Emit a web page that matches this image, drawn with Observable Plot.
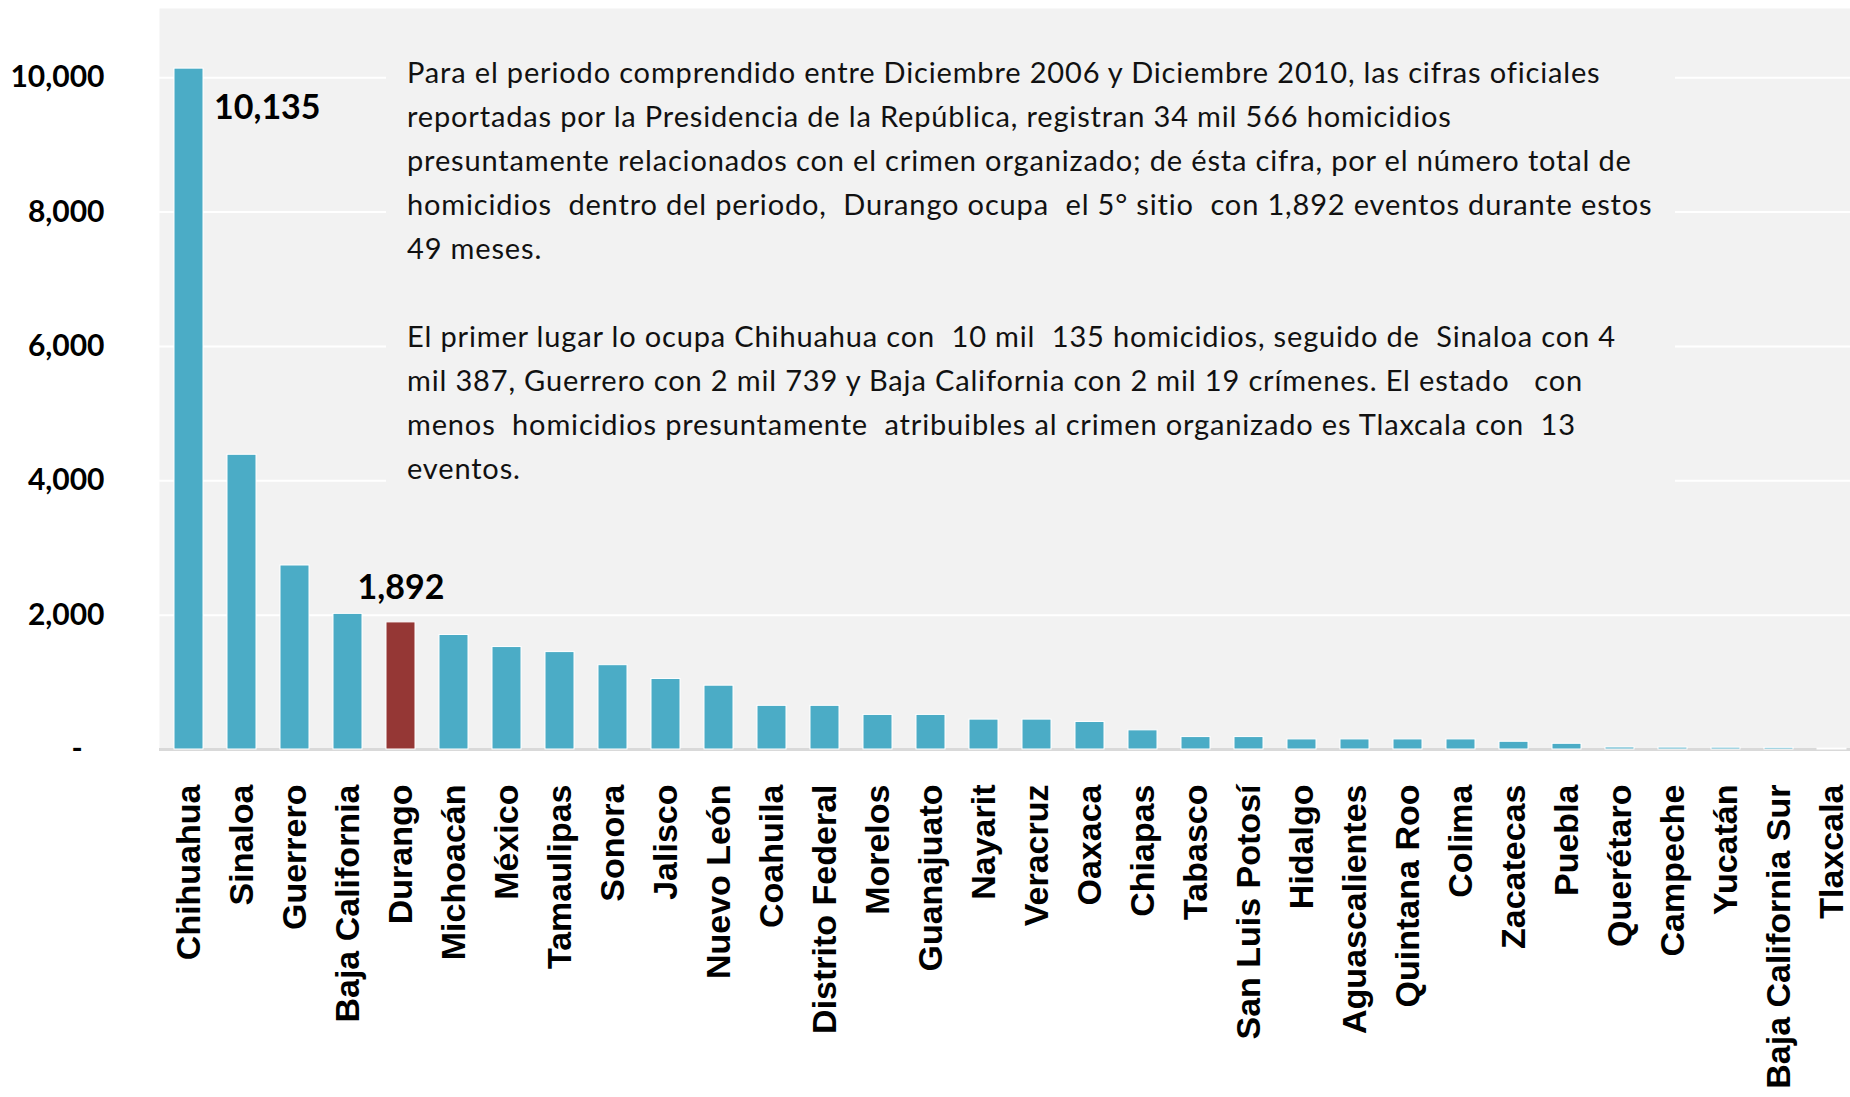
<!DOCTYPE html>
<html><head><meta charset="utf-8">
<script src="https://cdn.jsdelivr.net/npm/d3@7"></script>
<script src="https://cdn.jsdelivr.net/npm/@observablehq/plot@0.6"></script>
<style>
html,body{margin:0;padding:0;background:#fff;}
#wrap{position:relative;width:1850px;height:1097px;overflow:hidden;}
#chart svg{display:block;}
#note{position:absolute;left:386px;top:40px;width:1289px;height:457px;background:#f2f2f2;font-family:Lato, sans-serif;font-size:29px;color:#111;}
#note div.l{position:absolute;left:21px;white-space:pre;line-height:1;}
</style></head>
<body><div id="wrap"><div id="chart"></div><div id="note"></div></div>
<script>
const states = ["Chihuahua","Sinaloa","Guerrero","Baja California","Durango","Michoacán","México","Tamaulipas","Sonora","Jalisco","Nuevo León","Coahuila","Distrito Federal","Morelos","Guanajuato","Nayarit","Veracruz","Oaxaca","Chiapas","Tabasco","San Luis Potosí","Hidalgo","Aguascalientes","Quintana Roo","Colima","Zacatecas","Puebla","Querétaro","Campeche","Yucatán","Baja California Sur","Tlaxcala"];
const homicidios = [10135,4387,2739,2019,1892,1705,1525,1450,1255,1050,950,650,650,515,515,445,445,410,285,185,185,150,150,150,150,115,85,30,28,27,25,13];
const highlightState = "Durango";
const labeledStates = ["Chihuahua","Durango"];
const yTicks = [0,2000,4000,6000,8000,10000];
const noteLines = [
  "Para el periodo comprendido entre Diciembre 2006 y Diciembre 2010, las cifras oficiales",
  "reportadas por la Presidencia de la República, registran 34 mil 566 homicidios",
  "presuntamente relacionados con el crimen organizado; de ésta cifra, por el número total de",
  "homicidios  dentro del periodo,  Durango ocupa  el 5° sitio  con 1,892 eventos durante estos",
  "49 meses.",
  "",
  "El primer lugar lo ocupa Chihuahua con  10 mil  135 homicidios, seguido de  Sinaloa con 4",
  "mil 387, Guerrero con 2 mil 739 y Baja California con 2 mil 19 crímenes. El estado   con",
  "menos  homicidios presuntamente  atribuibles al crimen organizado es Tlaxcala con  13",
  "eventos."
];

const data = states.map((s, i) => ({state: s, value: homicidios[i]}));
const fmt = d3.format(",");

const chart = Plot.plot({
  width: 1850, height: 1097,
  marginLeft: 159, marginRight: -11, marginTop: 8, marginBottom: 348,
  style: {background: "transparent", color: "#000", fontFamily: "Lato, sans-serif", overflow: "visible"},
  x: {domain: states, paddingInner: 0.454, paddingOuter: 0.254, label: null},
  y: {domain: [0, 11030], label: null},
  marks: [
    Plot.frame({fill: "#f2f2f2", stroke: null}),
    Plot.gridY(yTicks.filter(d => d > 0), {stroke: "#ffffff", strokeOpacity: 1, strokeWidth: 2}),
    Plot.ruleY([0], {stroke: "#d9d9d9", strokeWidth: 3}),
    Plot.barY(data, {x: "state", y: "value", fill: d => d.state === highlightState ? "#953735" : "#4bacc6", stroke: "#ffffff", strokeWidth: 1}),
    Plot.axisY({ticks: yTicks, tickSize: 0, tickPadding: 55, tickFormat: d => d === 0 ? "-\u00a0\u00a0\u00a0" : fmt(d), fontSize: 30, fontWeight: "bold", label: null}),
    Plot.axisX({tickSize: 0, tickRotate: -90, tickPadding: 35, fontSize: 34, fontWeight: "bold", fontFamily: "Liberation Sans, Arial, sans-serif", label: null}),
    Plot.text(data.filter(d => d.state === labeledStates[0]), {x: "state", y: "value", text: d => fmt(d.value), textAnchor: "start", dx: 25, dy: 39, fontSize: 34, fontWeight: "bold"}),
    Plot.text(data.filter(d => d.state === labeledStates[1]), {x: "state", y: "value", text: d => fmt(d.value), dy: -34, fontSize: 34, fontWeight: "bold"})
  ]
});
document.getElementById("chart").append(chart);

const note = document.getElementById("note");
const lineCenters = noteLines.map((_, i) => 72 + 44 * i);
noteLines.forEach((t, i) => {
  const el = document.createElement("div");
  el.className = "l";
  el.textContent = t;
  el.style.top = (lineCenters[i] - 40 - 15) + "px";
  note.append(el);
});
// fit letter spacing so the first line spans like the reference
const first = note.querySelector("div.l");
const w = first.getBoundingClientRect().width;
const ls = (1193 - w) / noteLines[0].length;
note.querySelectorAll("div.l").forEach(el => el.style.letterSpacing = ls + "px");
</script>
</body></html>
